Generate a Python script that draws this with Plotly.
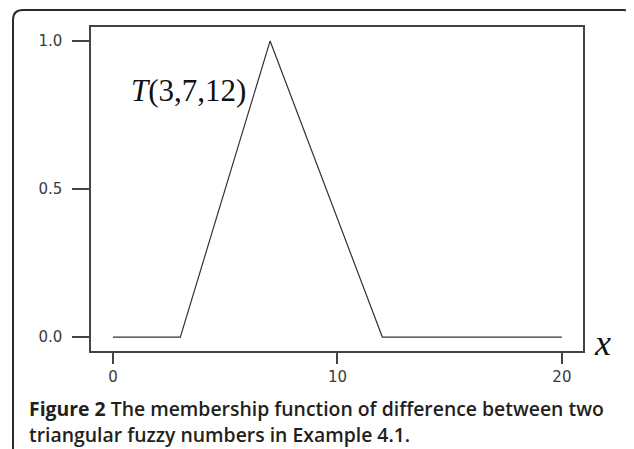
import plotly.graph_objects as go

# Data: triangular fuzzy number T(3,7,12) on [0,20]
x_vals = [0, 3, 7, 12, 20]
mu_vals = [0.0, 0.0, 1.0, 0.0, 0.0]
x_ticks = [0, 10, 20]
y_ticks = [0.0, 0.5, 1.0]
y_tick_text = ["0.0", "0.5", "1.0"]

OFF = 8  # page body margin
W, H = 634 - OFF, 449 - OFF
L, R, T, B = 91, 583, 27, 351  # plot area in reference pixels


def px(x):
    return (x - L) / (R - L)


def py(y):
    return (B - y) / (B - T)


fig = go.Figure()
fig.add_trace(go.Scatter(x=x_vals, y=mu_vals, mode="lines",
                         line=dict(color="#333333", width=1.2),
                         hoverinfo="skip", showlegend=False))

axis_common = dict(showgrid=False, zeroline=False, showline=True, mirror=True,
                   linecolor="#444444", linewidth=1.5, ticks="outside",
                   tickcolor="#444444", tickwidth=1.5,
                   tickfont=dict(family="DejaVu Sans, Verdana, sans-serif", size=15, color="#3a3a3a"))

fig.update_xaxes(range=[-0.98, 20.94], tickvals=x_ticks, ticklen=11, **axis_common)
fig.update_yaxes(range=[-0.047, 1.047], tickvals=y_ticks, ticktext=y_tick_text,
                 ticklen=17, ticklabelstandoff=7, **axis_common)

# Rounded outer frame
r = 10
x0, y0, x1, y1 = 13, 10, 633, 460
path = (f"M {px(x0)},{py(y1)} L {px(x0)},{py(y0 + r)} "
        f"Q {px(x0)},{py(y0)} {px(x0 + r)},{py(y0)} "
        f"L {px(x1 - r)},{py(y0)} Q {px(x1)},{py(y0)} {px(x1)},{py(y0 + r)} "
        f"L {px(x1)},{py(y1)}")
fig.add_shape(type="path", path=path, xref="paper", yref="paper",
              line=dict(color="#2b2b2b", width=2))

fig.add_annotation(x=px(129), y=py(90), xref="paper", yref="paper",
                   text="<i>T</i>(3,7,12)", showarrow=False, xanchor="left", yanchor="middle",
                   font=dict(family="Liberation Serif, Times New Roman, serif", size=31, color="#111111"))
fig.add_annotation(x=px(602), y=py(343), xref="paper", yref="paper",
                   text="<i>x</i>", showarrow=False, xanchor="center", yanchor="middle",
                   font=dict(family="Liberation Serif, Times New Roman, serif", size=36, color="#111111"))

cap_font = dict(family="Open Sans, sans-serif", size=19.4, color="#231f20", weight=600)
fig.add_annotation(x=px(27), y=py(408), xref="paper", yref="paper",
                   text="<b>Figure 2</b> The membership function of difference between two",
                   showarrow=False, xanchor="left", yanchor="middle", font=cap_font)
fig.add_annotation(x=px(27), y=py(434), xref="paper", yref="paper",
                   text="triangular fuzzy numbers in Example 4.1.",
                   showarrow=False, xanchor="left", yanchor="middle", font=cap_font)

fig.update_layout(width=W, height=H, margin=dict(l=L - OFF, r=W - (R - OFF), t=T - OFF, b=H - (B - OFF)),
                  paper_bgcolor="white", plot_bgcolor="white", showlegend=False)

fig.write_html("out.html")
